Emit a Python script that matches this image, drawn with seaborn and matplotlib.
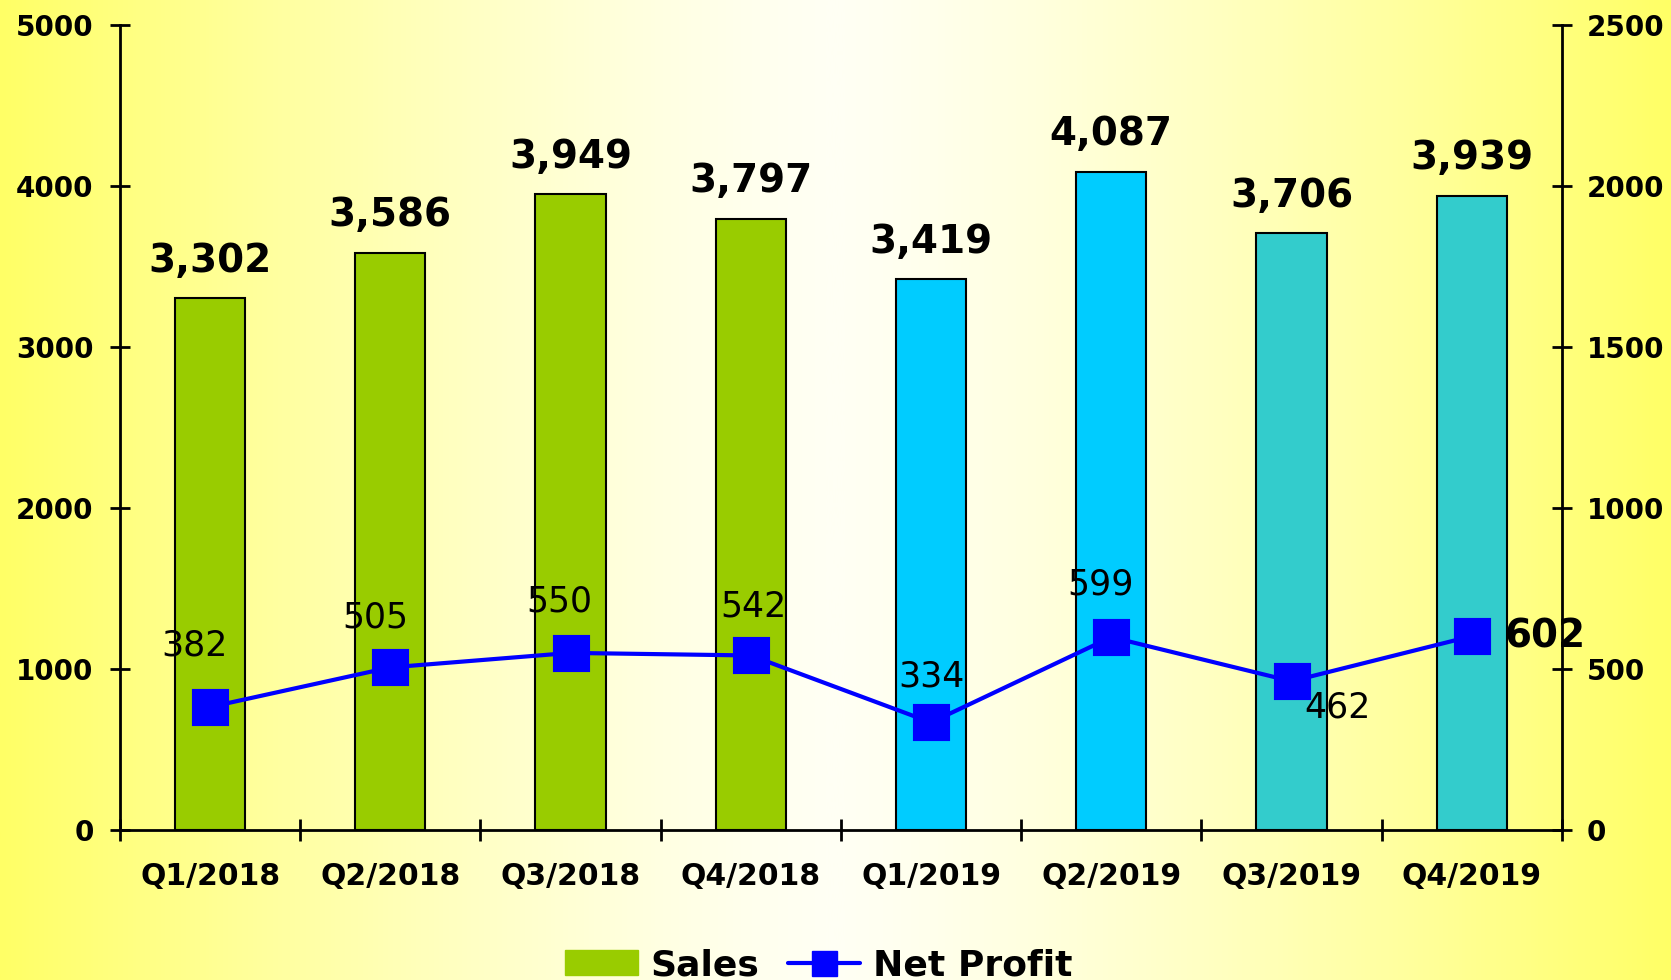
import numpy as np
import matplotlib
matplotlib.use("Agg")
import matplotlib.pyplot as plt
import seaborn as sns
from matplotlib.patches import Patch
from matplotlib.lines import Line2D
from matplotlib.colors import LinearSegmentedColormap

quarters = ["Q1/2018", "Q2/2018", "Q3/2018", "Q4/2018",
            "Q1/2019", "Q2/2019", "Q3/2019", "Q4/2019"]
sales = [3302, 3586, 3949, 3797, 3419, 4087, 3706, 3939]
net_profit = [382, 505, 550, 542, 334, 599, 462, 602]
bar_colors = ["#99CC00"] * 4 + ["#00CCFF"] * 2 + ["#33CCCC"] * 2

# label offsets (points) for the profit labels
profit_offsets = [(-11, 44), (-11, 36), (-8, 37), (2, 35),
                  (0, 33), (-8, 38), (33, -19), (24, 0)]

sns.set_style("white")
plt.rcParams["font.family"] = ["DejaVu Sans"]
plt.rcParams["text.color"] = "black"
plt.rcParams["axes.labelcolor"] = "black"
plt.rcParams["xtick.color"] = "black"
plt.rcParams["ytick.color"] = "black"

fig = plt.figure(figsize=(16.71, 9.8), dpi=100)

# background gradient: yellow edges, near-white centre
bg = fig.add_axes([0, 0, 1, 1], zorder=-10)
cmap = LinearSegmentedColormap.from_list("bg", ["#FFFFF4", "#FFFF66"])
xx = np.linspace(-1, 1, 600)
grad = np.abs(xx) ** 1.3
bg.imshow(grad[np.newaxis, :], aspect="auto", cmap=cmap, extent=[0, 1, 0, 1],
          vmin=0, vmax=1)
bg.set_axis_off()

ax = fig.add_axes([0.0718, 0.153, 0.8629, 0.8217])
ax.set_facecolor("none")

sns.barplot(x=quarters, y=sales, hue=quarters, palette=bar_colors, legend=False,
            width=0.39, edgecolor="black", linewidth=1.5, saturation=1, ax=ax)
ax.set_ylim(0, 5000)
ax.set_xlim(-0.5, 7.5)
ax.set_yticks(range(0, 5001, 1000))

for i, v in enumerate(sales):
    ax.annotate(f"{v:,}", (i, v), xytext=(0, 19), textcoords="offset points",
                ha="center", va="baseline", fontsize=28, fontweight="bold")

ax2 = ax.twinx()
ax2.set_facecolor("none")
sns.pointplot(x=quarters, y=net_profit, color="#0000FF", markers="s",
              markersize=24, linewidth=3, errorbar=None, ax=ax2)
ax2.set_ylim(0, 2500)
ax2.set_xlim(-0.5, 7.5)
ax2.set_yticks(range(0, 2501, 500))

for i, (v, off) in enumerate(zip(net_profit, profit_offsets)):
    if i == 7:
        ax2.annotate(f"{v}", (i, v), xytext=off, textcoords="offset points",
                     ha="left", va="center", fontsize=28, fontweight="bold")
    else:
        ax2.annotate(f"{v}", (i, v), xytext=off, textcoords="offset points",
                     ha="center", va="center", fontsize=25)

# spines and ticks
for a in (ax, ax2):
    a.spines["top"].set_visible(False)
    for s in ("left", "right", "bottom"):
        a.spines[s].set_linewidth(2)
        a.spines[s].set_color("black")
    a.set_xlabel("")
    a.set_ylabel("")

ax.spines["right"].set_visible(False)
ax2.spines["left"].set_visible(False)
ax2.spines["bottom"].set_visible(False)

ax.tick_params(axis="y", left=True, direction="inout", length=14, width=2,
               labelsize=20, pad=12)
ax2.tick_params(axis="y", right=True, direction="inout", length=14, width=2,
                labelsize=20, pad=11)
for lab in ax.get_yticklabels() + ax2.get_yticklabels():
    lab.set_fontweight("bold")

ax.set_xticks(range(len(quarters)))
ax.set_xticklabels(quarters, fontsize=21.5, fontweight="bold")
ax.set_xticks(np.arange(-0.5, 8, 1), minor=True)
ax.tick_params(axis="x", which="major", bottom=True, length=0, pad=23)
ax.tick_params(axis="x", which="minor", bottom=True, direction="inout",
               length=16, width=2)
ax2.tick_params(axis="x", which="both", bottom=False, length=0, labelbottom=False)

handles = [Patch(facecolor="#99CC00", edgecolor="#99CC00"),
           Line2D([], [], color="#0000FF", marker="s", markersize=18, linewidth=3)]
fig.legend(handles, ["Sales", "Net Profit"], loc="center", bbox_to_anchor=(0.49, 0.015),
           ncol=2, frameon=False, prop={"size": 26, "weight": "bold"},
           handlelength=2.0, handletextpad=0.35, columnspacing=0.8)

fig.savefig("out.png", dpi=100)
